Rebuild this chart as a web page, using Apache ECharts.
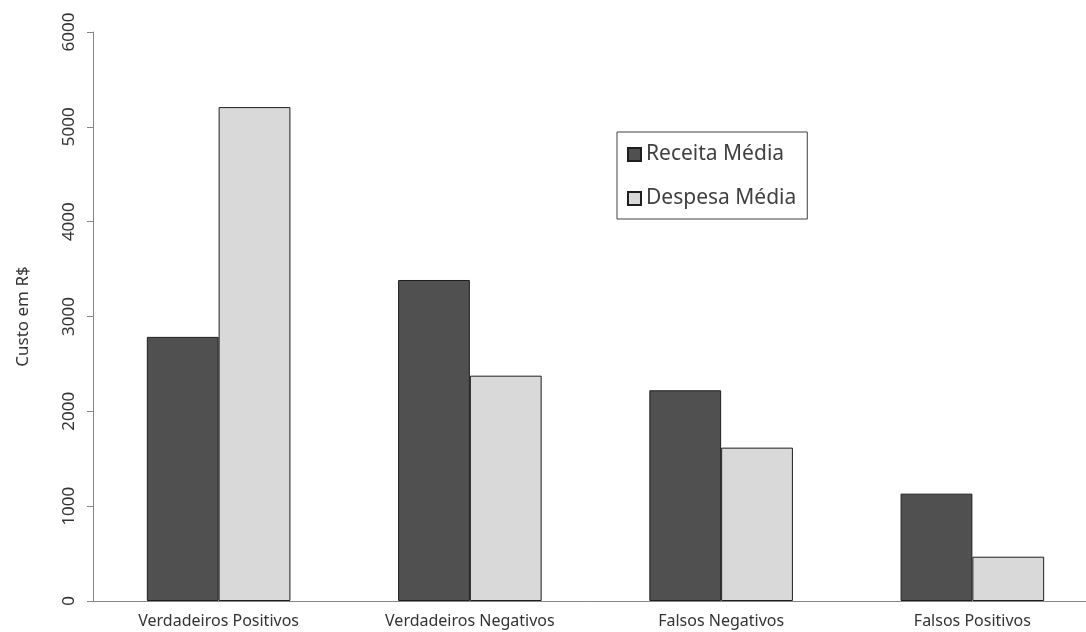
<!DOCTYPE html>
<html>
<head>
<meta charset="utf-8">
<script src="https://cdn.jsdelivr.net/npm/echarts@6/dist/echarts.min.js"></script>
<style>html,body{margin:0;padding:0;background:#fff}#c{width:1086px;height:632px}</style>
</head>
<body>
<div id="c"></div>
<script>
const categories = ['Verdadeiros Positivos', 'Verdadeiros Negativos', 'Falsos Negativos', 'Falsos Positivos'];
const receitaMedia = [2785, 3385, 2222, 1132];
const despesaMedia = [5208, 2376, 1617, 467];
const yTicks = [0, 1000, 2000, 3000, 4000, 5000, 6000];

const FONT = 'Noto Sans';
const chart = echarts.init(document.getElementById('c'));
chart.setOption({
  animation: false,
  backgroundColor: '#fff',
  textStyle: { fontFamily: FONT },
  grid: { left: 93, top: 32, height: 569, width: 1005, containLabel: false, outerBoundsMode: 'none' },
  legend: {
    orient: 'vertical',
    left: 617, top: 132,
    padding: [12, 11, 10, 10],
    itemGap: 23,
    borderColor: '#404040', borderWidth: 1,
    itemWidth: 13, itemHeight: 13,
    icon: 'rect',
    textStyle: { fontFamily: FONT, fontSize: 21, color: '#404040', padding: [0, 0, 0, 0] },
    data: ['Receita Média', 'Despesa Média']
  },
  xAxis: {
    type: 'category',
    data: categories,
    axisLine: { show: true, lineStyle: { color: '#868686', width: 1 } },
    axisTick: { show: false },
    axisLabel: { fontFamily: FONT, fontSize: 16, color: '#333', margin: 12 }
  },
  yAxis: {
    type: 'value',
    min: yTicks[0], max: yTicks[yTicks.length - 1], interval: 1000,
    name: 'Custo em R$',
    nameLocation: 'middle',
    nameRotate: 90,
    nameGap: 61,
    nameTextStyle: { fontFamily: FONT, fontSize: 17, color: '#333' },
    axisLine: { show: true, lineStyle: { color: '#868686', width: 1 } },
    axisTick: { show: true, length: 6, lineStyle: { color: '#868686' } },
    splitLine: { show: false },
    axisLabel: { fontFamily: FONT, fontSize: 17, color: '#333', rotate: 90, margin: 15,
      formatter: v => String(v) }
  },
  series: [
    {
      name: 'Receita Média', type: 'bar', data: receitaMedia,
      barGap: '0%', barCategoryGap: '42.86%',
      itemStyle: { color: '#505050', borderColor: '#1e1e1e', borderWidth: 1 }
    },
    {
      name: 'Despesa Média', type: 'bar', data: despesaMedia,
      barGap: '0%', barCategoryGap: '42.86%',
      itemStyle: { color: '#d9d9d9', borderColor: '#1e1e1e', borderWidth: 1 }
    }
  ]
});
</script>
</body>
</html>
